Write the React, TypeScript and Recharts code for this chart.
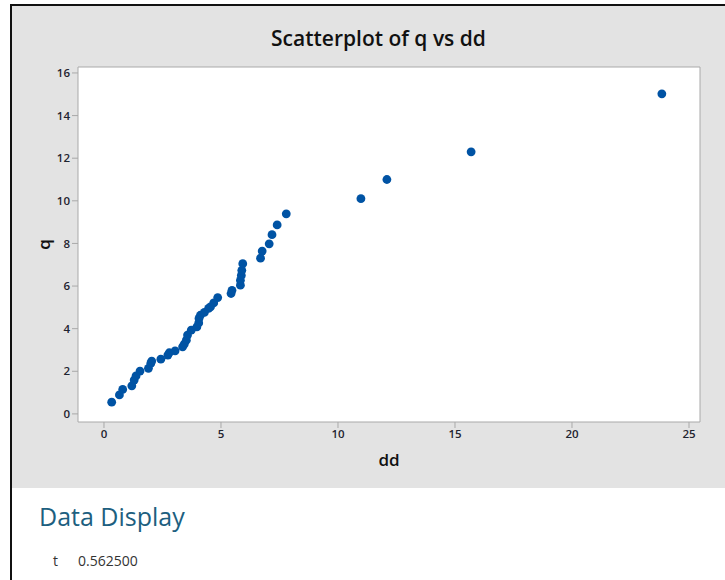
import { ScatterChart, Scatter, XAxis, YAxis, ReferenceArea, Label } from 'recharts';

const ddValues = [
  0.33, 0.66, 0.8, 1.19, 1.29, 1.37, 1.54, 1.9, 2.0, 2.04, 2.43, 2.73, 2.79, 3.04,
  3.36, 3.43, 3.52, 3.57, 3.73, 3.97, 4.05, 4.06, 4.12, 4.29, 4.47, 4.55, 4.69, 4.86,
  5.43, 5.47, 5.83, 5.83, 5.87, 5.89, 5.93, 6.69, 6.76, 7.06, 7.18, 7.4, 7.79,
  10.98, 12.09, 15.69, 23.84,
];
const qValues = [
  0.55, 0.89, 1.15, 1.32, 1.59, 1.78, 2.01, 2.14, 2.37, 2.48, 2.57, 2.76, 2.87, 2.96,
  3.15, 3.27, 3.46, 3.7, 3.93, 4.08, 4.27, 4.48, 4.63, 4.76, 4.95, 5.02, 5.21, 5.46,
  5.65, 5.8, 6.04, 6.27, 6.5, 6.74, 7.05, 7.31, 7.64, 7.98, 8.41, 8.87, 9.39,
  10.1, 11.0, 12.3, 15.02,
];
const xTicks = [0, 5, 10, 15, 20, 25];
const yTicks = [0, 2, 4, 6, 8, 10, 12, 14, 16];

const X_DOMAIN: [number, number] = [-1.11, 25.47];
const Y_DOMAIN: [number, number] = [-0.38, 16.28];

const points = ddValues.map((dd, i) => ({ dd, q: qValues[i] }));

const FONT = '"Open Sans", "Noto Sans", sans-serif';
const GRAY_BG = '#e3e3e3';
const FRAME = '#a9a9a9';
const DOT = '#0053a4';
const TICK_STYLE = { fill: '#1f2430', fontSize: 11.5, fontFamily: FONT, fontWeight: 600 };

function YTitle(props: any) {
  const vb = props.viewBox || { x: 0, y: 0, width: 0, height: 0 };
  const cx = vb.x + 43;
  const cy = vb.y + vb.height / 2;
  return (
    <text
      x={cx}
      y={cy}
      transform={`rotate(-90 ${cx} ${cy})`}
      textAnchor="middle"
      dominantBaseline="central"
      fill="#111"
      fontSize={17}
      fontWeight={600}
      fontFamily={FONT}
    >
      q
    </text>
  );
}

export default function App() {
  return (
    <div
      style={{
        position: 'absolute',
        left: 0,
        top: 0,
        width: 725,
        height: 580,
        background: '#fff',
        overflow: 'hidden',
        fontFamily: FONT,
      }}
    >
      {/* window frame */}
      <div style={{ position: 'absolute', left: 10, top: 4, width: 715, height: 2, background: '#111' }} />
      <div style={{ position: 'absolute', left: 10, top: 4, width: 2, height: 576, background: '#111' }} />
      <div style={{ position: 'absolute', left: 12, top: 6, width: 713, height: 482, background: GRAY_BG }} />

      <div
        style={{
          position: 'absolute',
          left: 0,
          top: 24,
          width: 757,
          textAlign: 'center',
          fontSize: 21,
          fontWeight: 600,
          color: '#111',
        }}
      >
        Scatterplot of q vs dd
      </div>

      <div style={{ position: 'absolute', left: 0, top: 0 }}>
        <ScatterChart width={725} height={488} margin={{ top: 67, right: 25, bottom: 0, left: 0 }}>
          <XAxis
            type="number"
            dataKey="dd"
            domain={X_DOMAIN}
            ticks={xTicks}
            allowDataOverflow
            height={66}
            tick={TICK_STYLE}
            tickSize={6}
            axisLine={false}
            tickLine={{ stroke: FRAME }}
          >
            <Label
              value="dd"
              position="insideBottom"
              offset={22}
              fill="#111"
              fontSize={17}
              fontWeight={600}
              fontFamily={FONT}
            />
          </XAxis>
          <YAxis
            type="number"
            dataKey="q"
            domain={Y_DOMAIN}
            ticks={yTicks}
            allowDataOverflow
            width={78}
            tick={TICK_STYLE}
            tickSize={6}
            axisLine={false}
            tickLine={{ stroke: FRAME }}
          >
            <Label content={<YTitle />} />
          </YAxis>
          <ReferenceArea
            x1={X_DOMAIN[0]}
            x2={X_DOMAIN[1]}
            y1={Y_DOMAIN[0]}
            y2={Y_DOMAIN[1]}
            fill="#fff"
            fillOpacity={1}
            stroke={FRAME}
            strokeWidth={1}
          />
          <Scatter
            data={points}
            fill={DOT}
            isAnimationActive={false}
            shape={(p: any) => <circle cx={p.cx} cy={p.cy} r={4.4} fill={DOT} />}
          />
        </ScatterChart>
      </div>

      <div
        style={{
          position: 'absolute',
          left: 39,
          top: 499,
          fontSize: 25,
          fontWeight: 500,
          color: '#1d5f80',
        }}
      >
        Data Display
      </div>
      <div style={{ position: 'absolute', left: 53, top: 551, fontSize: 14, color: '#333' }}>
        t
      </div>
      <div style={{ position: 'absolute', left: 78, top: 551, fontSize: 14, color: '#333' }}>
        0.562500
      </div>
    </div>
  );
}
